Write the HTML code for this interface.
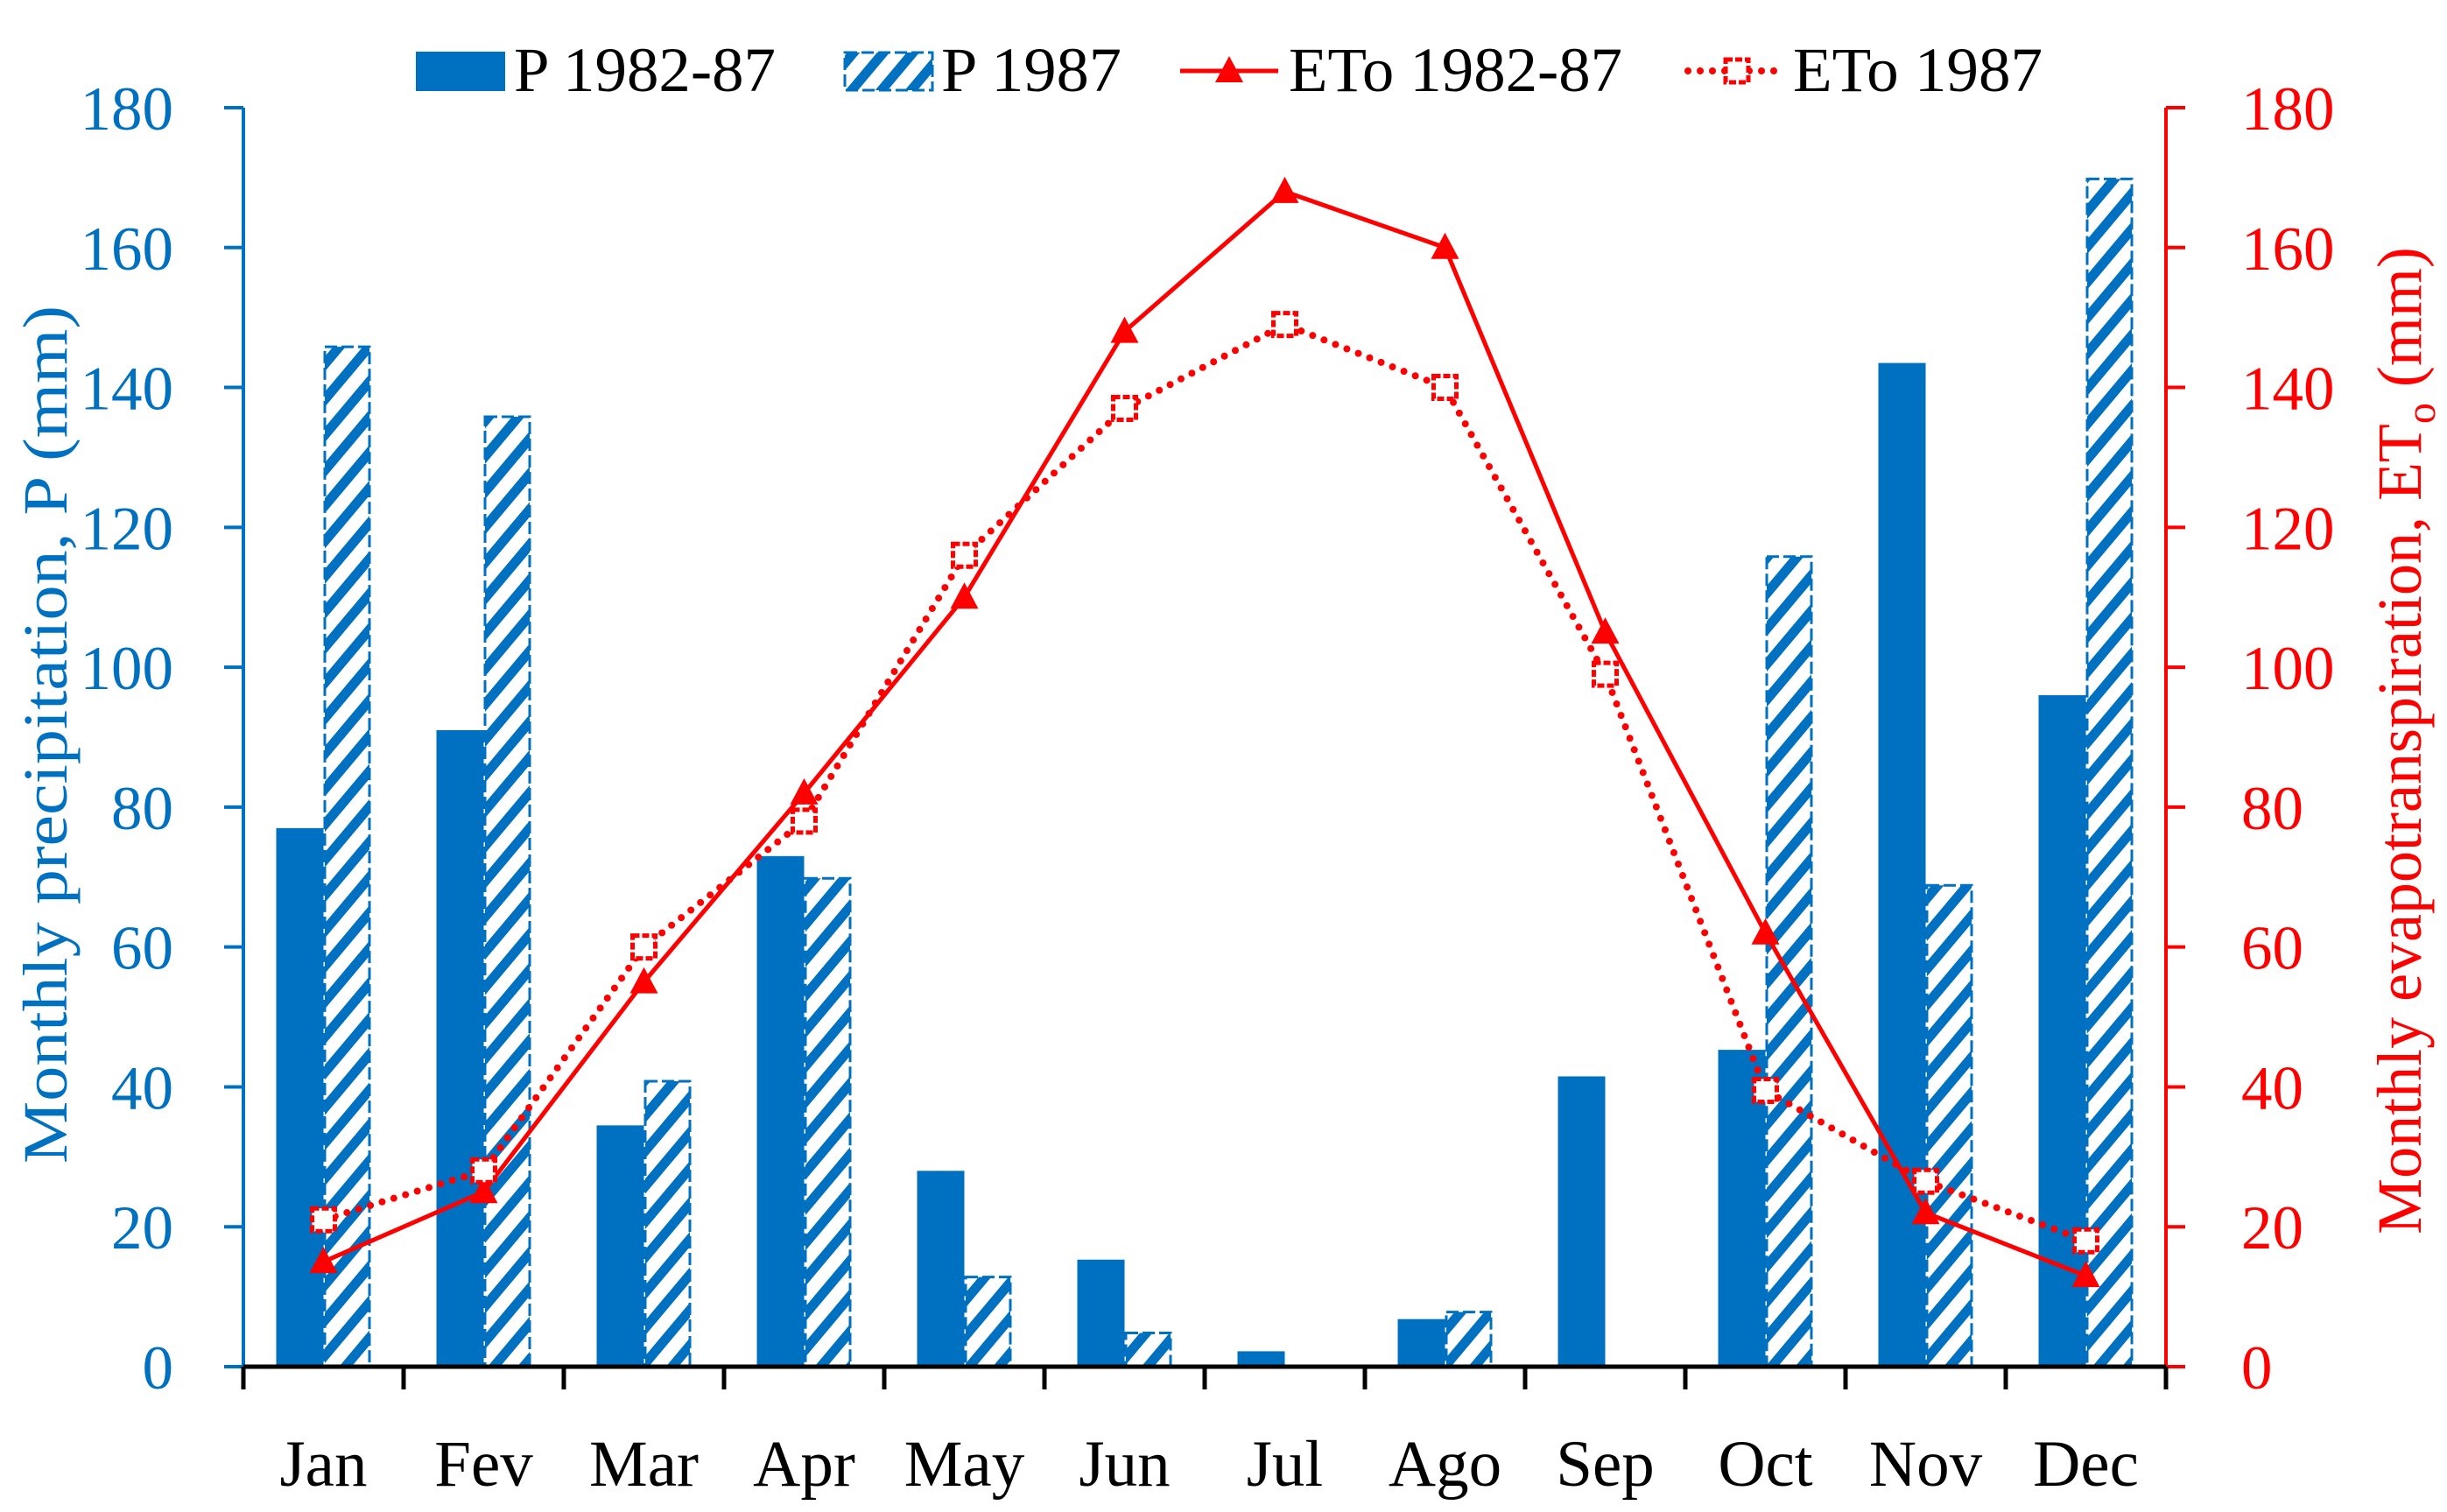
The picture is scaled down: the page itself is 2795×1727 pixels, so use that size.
<!DOCTYPE html>
<html><head><meta charset="utf-8"><style>
html,body{margin:0;padding:0;background:#fff;}
svg{display:block;font-family:"Liberation Serif",serif;}
</style></head><body>
<svg id="chart" width="2795" height="1727" viewBox="0 0 2795 1727" xmlns="http://www.w3.org/2000/svg">
<defs>
<pattern id="hatch" patternUnits="userSpaceOnUse" width="26" height="26" patternTransform="rotate(40)">
<rect x="0" y="0" width="26" height="26" fill="#fff"/>
<rect x="0" y="0" width="11" height="26" fill="#0070C0"/>
</pattern>
</defs>
<g id="plot"></g>
</svg>
<script>
const months = ["Jan","Fev","Mar","Apr","May","Jun","Jul","Ago","Sep","Oct","Nov","Dec"];
const p8287 = [77, 91, 34.5, 73, 28, 15.3, 2.2, 6.8, 41.5, 45.3, 143.5, 96];
const p1987 = [146, 136, 41, 70, 13, 5, 0, 8, 0, 116, 69, 170];
const eto8287 = [15, 25, 55, 82, 110, 148, 168, 160, 105, 62, 22, 13];
const eto1987 = [21, 28, 60, 78, 116, 137, 149, 140, 99, 39.5, 26.5, 18];
const yTicks = [0,20,40,60,80,100,120,140,160,180];

const NS="http://www.w3.org/2000/svg";
const g=document.getElementById('plot');
const X0=278, X1=2474, Y0=1561, Ytop=123, YMAX=180;
const step=(X1-X0)/months.length;
const y=v=>Y0-(v/YMAX)*(Y0-Ytop);
const xc=i=>X0+step*(i+0.5);
function mk(tag,attrs,parent){const e=document.createElementNS(NS,tag);for(const k in attrs)e.setAttribute(k,attrs[k]);(parent||g).appendChild(e);return e;}
const BW=54;

months.forEach((m,i)=>{
  const b1=mk('rect',{x:xc(i)-BW,y:y(p8287[i]),width:BW,height:Y0-y(p8287[i]),fill:'#0070C0'});
  
  
  if(p1987[i]>0){
    const b2=mk('rect',{x:xc(i)+1.5,y:y(p1987[i])+1.5,width:BW-3,height:Y0-y(p1987[i])-1.5,fill:'url(#hatch)',stroke:'#0070C0','stroke-width':3,'stroke-dasharray':'14 5'});
    
    
  }
});

const la=mk('line',{x1:X0,y1:Ytop,x2:X0,y2:Y0,stroke:'#0070C0','stroke-width':4});

const ra=mk('line',{x1:X1,y1:Ytop,x2:X1,y2:Y0,stroke:'#FF0000','stroke-width':4});

yTicks.forEach(t=>{
  mk('line',{x1:X0-22,y1:y(t),x2:X0,y2:y(t),stroke:'#0070C0','stroke-width':4});
  mk('line',{x1:X1,y1:y(t),x2:X1+22,y2:y(t),stroke:'#FF0000','stroke-width':4});
  const lt=mk('text',{x:X0-80,y:y(t)+25,'text-anchor':'end','font-size':71,fill:'#0070C0'});lt.textContent=t;
  
  const rt=mk('text',{x:X1+86,y:y(t)+25,'text-anchor':'start','font-size':71,fill:'#FF0000'});rt.textContent=t;
  
});
const xa=mk('line',{x1:X0,y1:Y0,x2:X1,y2:Y0,stroke:'#000','stroke-width':5});

for(let i=0;i<=months.length;i++){mk('line',{x1:X0+step*i,y1:Y0,x2:X0+step*i,y2:Y0+26,stroke:'#000','stroke-width':5});}
months.forEach((m,i)=>{const t=mk('text',{x:xc(i),y:1697,'text-anchor':'middle','font-size':75,fill:'#000'});t.textContent=m;
  });

const pts1=eto8287.map((v,i)=>xc(i)+','+y(v)).join(' ');
const l1=mk('polyline',{points:pts1,fill:'none',stroke:'#FF0000','stroke-width':5});

const pts2=eto1987.map((v,i)=>xc(i)+','+y(v)).join(' ');
const l2=mk('polyline',{points:pts2,fill:'none',stroke:'#FF0000','stroke-width':8,'stroke-dasharray':'0 14','stroke-linecap':'round'});

eto8287.forEach((v,i)=>{const cx=xc(i),cy=y(v);
  const m=mk('polygon',{points:`${cx},${cy-17} ${cx-16},${cy+13} ${cx+16},${cy+13}`,fill:'#FF0000'});
  });
eto1987.forEach((v,i)=>{const cx=xc(i),cy=y(v);
  const m=mk('rect',{x:cx-13,y:cy-13,width:26,height:26,fill:'#fff',stroke:'#FF0000','stroke-width':5,'stroke-dasharray':'8 3'});
  });

const lt=mk('text',{x:0,y:0,transform:'translate(76,839) rotate(-90)','text-anchor':'middle','font-size':72,fill:'#0070C0',textLength:980,lengthAdjust:'spacingAndGlyphs'});
lt.textContent='Monthly precipitation, P (mm)';

const rtt=mk('text',{x:0,y:0,transform:'translate(2765,846) rotate(-90)','text-anchor':'middle','font-size':72,fill:'#FF0000'});
rtt.innerHTML='Monthly evapotranspiration, ET<tspan font-size="48" dy="16">o</tspan><tspan dy="-16"> (mm)</tspan>';


const lg=mk('g',{});

mk('rect',{x:475,y:59,width:102,height:45,fill:'#0070C0'},lg);
let t1=mk('text',{x:587,y:104,'font-size':72,fill:'#000',textLength:299,lengthAdjust:'spacingAndGlyphs'},lg);t1.textContent='P 1982-87';
mk('rect',{x:965,y:60,width:100,height:43,fill:'url(#hatch)',stroke:'#0070C0','stroke-width':3,'stroke-dasharray':'14 5'},lg);
let t2=mk('text',{x:1075,y:104,'font-size':72,fill:'#000',textLength:206,lengthAdjust:'spacingAndGlyphs'},lg);t2.textContent='P 1987';
mk('line',{x1:1348,y1:81,x2:1460,y2:81,stroke:'#FF0000','stroke-width':5},lg);
mk('polygon',{points:'1404,64 1388,94 1420,94',fill:'#FF0000'},lg);
let t3=mk('text',{x:1472,y:104,'font-size':72,fill:'#000',textLength:381,lengthAdjust:'spacingAndGlyphs'},lg);t3.textContent='ETo 1982-87';
mk('line',{x1:1928,y1:81,x2:2040,y2:81,stroke:'#FF0000','stroke-width':8,'stroke-dasharray':'0 14','stroke-linecap':'round'},lg);
mk('rect',{x:1971,y:68,width:26,height:26,fill:'#fff',stroke:'#FF0000','stroke-width':5,'stroke-dasharray':'8 3'},lg);
let t4=mk('text',{x:2048,y:104,'font-size':72,fill:'#000',textLength:285,lengthAdjust:'spacingAndGlyphs'},lg);t4.textContent='ETo 1987';
</script>
</body></html>
